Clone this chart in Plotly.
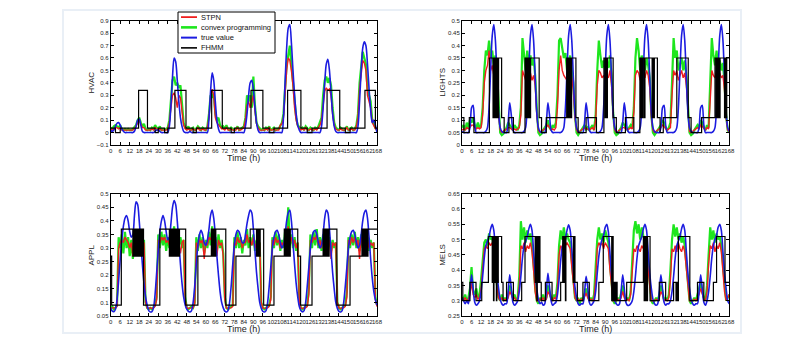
import plotly.graph_objects as go

# ore (0..168) e tacche dell'asse x
hours = list(range(169))
x_ticks = list(range(0, 169, 6))

# ---------------- HVAC ----------------
hvac_true = [
    0.02, 0.01, 0.02, 0.05, 0.075, 0.08, 0.06, 0.03, 0.01, 0.0, 0.0, 0.0, 0.0, 0.0, 0.0, 0.01, 0.05, 0.1, 0.11, 0.06, 0.01, 0.0, 0.0, 0.0,
    0.0, 0.0, 0.0, 0.0, 0.01, 0.02, 0.02, 0.01, 0.0, 0.0, 0.0, 0.0, 0.0, 0.05, 0.22, 0.45, 0.6, 0.57, 0.42, 0.25, 0.12, 0.05, 0.01, 0.0,
    0.0, 0.0, 0.01, 0.0, 0.0, 0.0, 0.0, 0.0, 0.0, 0.0, 0.0, 0.0, 0.0, 0.0, 0.12, 0.33, 0.48, 0.42, 0.25, 0.1, 0.03, 0.0, 0.0, 0.0,
    0.0, 0.0, 0.0, 0.0, 0.0, 0.0, 0.0, 0.0, 0.0, 0.0, 0.0, 0.0, 0.0, 0.05, 0.15, 0.3, 0.4, 0.42, 0.35, 0.2, 0.08, 0.02, 0.0, 0.0,
    0.0, 0.0, 0.0, 0.0, 0.0, 0.0, 0.0, 0.0, 0.0, 0.0, 0.0, 0.0, 0.0, 0.12, 0.4, 0.68, 0.84, 0.87, 0.72, 0.5, 0.3, 0.15, 0.06, 0.02,
    0.0, 0.0, 0.0, 0.0, 0.0, 0.0, 0.0, 0.0, 0.0, 0.0, 0.0, 0.0, 0.0, 0.05, 0.2, 0.4, 0.55, 0.59, 0.5, 0.32, 0.15, 0.05, 0.01, 0.0,
    0.0, 0.0, 0.0, 0.0, 0.0, 0.0, 0.0, 0.0, 0.0, 0.0, 0.0, 0.0, 0.05, 0.25, 0.5, 0.68, 0.73, 0.7, 0.55, 0.35, 0.18, 0.08, 0.1, 0.06, 0.0,
]
hvac_cvx = [
    0.04, 0.03, 0.05, 0.06, 0.05, 0.04, 0.06, 0.03, 0.02, 0.03, 0.02, 0.03, 0.02, 0.02, 0.03, 0.05, 0.06, 0.1, 0.12, 0.08, 0.05, 0.07, 0.03, 0.02,
    0.03, 0.02, 0.04, 0.03, 0.06, 0.04, 0.03, 0.05, 0.02, 0.03, 0.02, 0.03, 0.04, 0.1, 0.25, 0.42, 0.45, 0.38, 0.4, 0.36, 0.38, 0.2, 0.08, 0.04,
    0.03, 0.05, 0.02, 0.03, 0.04, 0.02, 0.03, 0.05, 0.03, 0.02, 0.04, 0.03, 0.02, 0.05, 0.15, 0.3, 0.28, 0.32, 0.15, 0.1, 0.12, 0.06, 0.04, 0.05,
    0.03, 0.06, 0.03, 0.02, 0.04, 0.03, 0.02, 0.03, 0.05, 0.02, 0.03, 0.04, 0.05, 0.12, 0.3, 0.25, 0.3, 0.2, 0.45, 0.22, 0.08, 0.05, 0.03, 0.02,
    0.03, 0.02, 0.04, 0.03, 0.05, 0.02, 0.03, 0.04, 0.02, 0.03, 0.03, 0.05, 0.08, 0.15, 0.4, 0.55, 0.62, 0.7, 0.55, 0.42, 0.25, 0.12, 0.06, 0.04,
    0.03, 0.04, 0.02, 0.05, 0.03, 0.02, 0.04, 0.03, 0.02, 0.04, 0.03, 0.05, 0.08, 0.12, 0.3, 0.42, 0.45, 0.4, 0.44, 0.38, 0.2, 0.08, 0.04, 0.03,
    0.02, 0.04, 0.03, 0.02, 0.03, 0.05, 0.02, 0.03, 0.04, 0.02, 0.03, 0.06, 0.15, 0.4, 0.55, 0.65, 0.6, 0.55, 0.35, 0.3, 0.25, 0.1, 0.06, 0.04, 0.02,
]
hvac_stpn = [
    0.03, 0.02, 0.03, 0.04, 0.04, 0.03, 0.04, 0.02, 0.02, 0.02, 0.02, 0.02, 0.02, 0.02, 0.02, 0.03, 0.05, 0.08, 0.1, 0.07, 0.04, 0.04, 0.02, 0.02,
    0.02, 0.02, 0.03, 0.02, 0.04, 0.03, 0.02, 0.03, 0.02, 0.02, 0.02, 0.02, 0.03, 0.08, 0.2, 0.3, 0.32, 0.28, 0.2, 0.3, 0.28, 0.15, 0.06, 0.03,
    0.02, 0.03, 0.02, 0.02, 0.03, 0.02, 0.02, 0.04, 0.02, 0.02, 0.03, 0.02, 0.02, 0.04, 0.12, 0.28, 0.35, 0.3, 0.12, 0.08, 0.06, 0.04, 0.03, 0.03,
    0.02, 0.04, 0.02, 0.02, 0.03, 0.02, 0.02, 0.02, 0.04, 0.02, 0.02, 0.03, 0.04, 0.1, 0.22, 0.25, 0.2, 0.25, 0.3, 0.18, 0.07, 0.04, 0.02, 0.02,
    0.02, 0.02, 0.03, 0.02, 0.04, 0.02, 0.02, 0.03, 0.02, 0.02, 0.02, 0.06, 0.07, 0.12, 0.35, 0.5, 0.6, 0.58, 0.5, 0.38, 0.2, 0.1, 0.05, 0.03,
    0.02, 0.03, 0.02, 0.04, 0.02, 0.02, 0.03, 0.02, 0.02, 0.03, 0.02, 0.04, 0.06, 0.1, 0.25, 0.33, 0.36, 0.34, 0.35, 0.3, 0.15, 0.06, 0.03, 0.02,
    0.02, 0.03, 0.02, 0.02, 0.02, 0.04, 0.02, 0.02, 0.03, 0.02, 0.02, 0.05, 0.12, 0.35, 0.5, 0.58, 0.56, 0.5, 0.3, 0.25, 0.2, 0.08, 0.05, 0.03, 0.02,
]
hvac_fhmm_t = [0, 3, 6, 17.6, 23.2, 28, 30, 34, 36, 40.5, 47.5, 52, 54, 63.7, 70.4, 76, 78, 88.5, 96, 100, 103,
               111.6, 120, 124, 127, 136.5, 144.5, 148, 151, 160.4, 167, 168]
hvac_fhmm_v = [0.035, 0.0, 0.035, 0.34, 0.035, 0.0, 0.035, 0.0, 0.035, 0.34, 0.035, 0.0, 0.035, 0.34, 0.035, 0.0, 0.035, 0.34, 0.035, 0.0, 0.035,
               0.34, 0.035, 0.0, 0.035, 0.34, 0.035, 0.0, 0.035, 0.34, 0.035, 0.035]

# ---------------- LIGHTS ----------------
lights_true = [
    0.055, 0.05, 0.05, 0.05, 0.05, 0.07, 0.15, 0.16, 0.08, 0.05, 0.05, 0.05, 0.05, 0.05, 0.05, 0.055, 0.07, 0.15, 0.3, 0.44, 0.485, 0.42, 0.27, 0.13,
    0.07, 0.055, 0.05, 0.05, 0.05, 0.09, 0.17, 0.12, 0.06, 0.05, 0.05, 0.05, 0.05, 0.05, 0.05, 0.055, 0.07, 0.15, 0.3, 0.44, 0.485, 0.42, 0.27, 0.13,
    0.07, 0.055, 0.05, 0.05, 0.05, 0.09, 0.17, 0.12, 0.06, 0.05, 0.05, 0.05, 0.05, 0.05, 0.05, 0.055, 0.07, 0.15, 0.3, 0.44, 0.485, 0.42, 0.27, 0.13,
    0.07, 0.055, 0.05, 0.05, 0.05, 0.09, 0.17, 0.12, 0.06, 0.05, 0.05, 0.05, 0.05, 0.05, 0.05, 0.055, 0.07, 0.15, 0.3, 0.44, 0.485, 0.42, 0.27, 0.13,
    0.07, 0.055, 0.05, 0.05, 0.05, 0.09, 0.17, 0.12, 0.06, 0.05, 0.05, 0.05, 0.05, 0.05, 0.05, 0.055, 0.07, 0.15, 0.3, 0.44, 0.485, 0.42, 0.27, 0.13,
    0.07, 0.055, 0.05, 0.05, 0.05, 0.07, 0.15, 0.16, 0.08, 0.05, 0.05, 0.05, 0.05, 0.05, 0.055, 0.07, 0.15, 0.3, 0.44, 0.485, 0.42, 0.27, 0.13, 0.07,
    0.055, 0.05, 0.05, 0.05, 0.05, 0.07, 0.15, 0.16, 0.08, 0.05, 0.05, 0.05, 0.05, 0.05, 0.055, 0.07, 0.15, 0.3, 0.44, 0.485, 0.42, 0.27, 0.13, 0.07, 0.055,
]
lights_cvx = [
    0.07, 0.08, 0.06, 0.09, 0.07, 0.1, 0.09, 0.11, 0.08, 0.07, 0.09, 0.07, 0.08, 0.15, 0.3, 0.38, 0.36, 0.42, 0.35, 0.38, 0.32, 0.36, 0.3, 0.15,
    0.05, 0.04, 0.045, 0.06, 0.07, 0.09, 0.08, 0.07, 0.06, 0.08, 0.07, 0.06, 0.08, 0.15, 0.43, 0.36, 0.3, 0.38, 0.33, 0.36, 0.32, 0.35, 0.28, 0.15,
    0.05, 0.04, 0.045, 0.06, 0.07, 0.08, 0.1, 0.07, 0.06, 0.08, 0.07, 0.09, 0.2, 0.42, 0.43, 0.38, 0.35, 0.37, 0.3, 0.33, 0.36, 0.3, 0.25, 0.12,
    0.05, 0.04, 0.05, 0.06, 0.07, 0.08, 0.06, 0.07, 0.06, 0.07, 0.08, 0.06, 0.12, 0.3, 0.42, 0.36, 0.31, 0.34, 0.3, 0.33, 0.31, 0.36, 0.28, 0.13,
    0.05, 0.04, 0.045, 0.06, 0.07, 0.09, 0.08, 0.07, 0.06, 0.07, 0.08, 0.07, 0.15, 0.35, 0.43, 0.38, 0.3, 0.36, 0.33, 0.3, 0.35, 0.32, 0.27, 0.12,
    0.05, 0.04, 0.05, 0.06, 0.07, 0.08, 0.1, 0.09, 0.07, 0.06, 0.07, 0.09, 0.25, 0.43, 0.35, 0.38, 0.3, 0.33, 0.35, 0.3, 0.34, 0.28, 0.15, 0.05,
    0.04, 0.045, 0.06, 0.07, 0.08, 0.07, 0.1, 0.09, 0.07, 0.06, 0.08, 0.07, 0.22, 0.43, 0.36, 0.32, 0.38, 0.3, 0.34, 0.3, 0.33, 0.25, 0.12, 0.06, 0.05,
]
lights_stpn = [
    0.06, 0.065, 0.06, 0.07, 0.065, 0.07, 0.08, 0.08, 0.07, 0.065, 0.07, 0.065, 0.07, 0.12, 0.25, 0.3, 0.32, 0.38, 0.3, 0.32, 0.28, 0.3, 0.25, 0.12,
    0.06, 0.05, 0.055, 0.06, 0.065, 0.07, 0.07, 0.065, 0.06, 0.065, 0.06, 0.065, 0.07, 0.12, 0.3, 0.28, 0.26, 0.3, 0.27, 0.29, 0.26, 0.28, 0.24, 0.12,
    0.06, 0.05, 0.055, 0.06, 0.065, 0.07, 0.08, 0.07, 0.06, 0.065, 0.06, 0.07, 0.15, 0.3, 0.36, 0.3, 0.28, 0.27, 0.26, 0.28, 0.3, 0.27, 0.22, 0.11,
    0.06, 0.05, 0.055, 0.06, 0.065, 0.07, 0.065, 0.065, 0.06, 0.065, 0.07, 0.06, 0.1, 0.24, 0.3, 0.29, 0.27, 0.28, 0.26, 0.28, 0.27, 0.3, 0.24, 0.12,
    0.06, 0.05, 0.055, 0.06, 0.065, 0.07, 0.07, 0.065, 0.06, 0.065, 0.07, 0.065, 0.13, 0.28, 0.3, 0.29, 0.26, 0.28, 0.29, 0.27, 0.3, 0.28, 0.23, 0.11,
    0.06, 0.05, 0.055, 0.06, 0.065, 0.07, 0.08, 0.075, 0.065, 0.06, 0.065, 0.07, 0.2, 0.3, 0.28, 0.3, 0.26, 0.28, 0.3, 0.27, 0.29, 0.24, 0.13, 0.055,
    0.05, 0.055, 0.06, 0.065, 0.07, 0.065, 0.08, 0.075, 0.065, 0.06, 0.07, 0.065, 0.18, 0.3, 0.28, 0.27, 0.3, 0.27, 0.29, 0.27, 0.28, 0.22, 0.11, 0.06, 0.055,
]
lights_fhmm_t = [0, 1.2, 4.6, 7.5, 17.2, 19.5, 19.8, 20.2, 20.5, 21, 21.3, 21.8, 22.2, 22.6, 23, 24.9, 26.5, 29.5, 32.3,
                 39.6, 40.2, 40.5, 41, 41.3, 41.8, 42.2, 42.7, 43.1, 48.5, 50, 53,
                 65.8, 66.5, 66.8, 67.4, 67.8, 68.5, 68.9, 71.6, 73, 78, 84.5,
                 89.2, 90, 90.3, 91, 91.4, 95, 97, 102.7, 108,
                 111.8, 112.5, 112.8, 113.5, 113.8, 114.6, 115, 119.5, 119.9, 120.5, 120.9, 122.8, 124.5, 126.5,
                 135, 142.2, 144, 150.6,
                 159, 159.8, 160.1, 160.8, 161.1, 161.8, 162.2, 165, 165.4, 166, 166.4, 168]
lights_fhmm_v = [0.11, 0.05, 0.11, 0.05, 0.35, 0.11, 0.35, 0.11, 0.35, 0.11, 0.35, 0.11, 0.35, 0.11, 0.35, 0.11, 0.05, 0.11, 0.05,
                 0.35, 0.11, 0.35, 0.11, 0.35, 0.11, 0.35, 0.11, 0.35, 0.11, 0.05, 0.11,
                 0.35, 0.11, 0.35, 0.11, 0.35, 0.11, 0.35, 0.11, 0.05, 0.11, 0.05,
                 0.35, 0.11, 0.35, 0.11, 0.35, 0.11, 0.05, 0.11, 0.05,
                 0.35, 0.11, 0.35, 0.11, 0.35, 0.11, 0.35, 0.11, 0.35, 0.11, 0.35, 0.11, 0.05, 0.11,
                 0.35, 0.11, 0.05, 0.11,
                 0.35, 0.11, 0.35, 0.11, 0.35, 0.11, 0.35, 0.11, 0.35, 0.11, 0.35, 0.35]

# ---------------- APPL ----------------
appl_true = [
    0.08, 0.068, 0.066, 0.075, 0.11, 0.18, 0.26, 0.33, 0.38, 0.41, 0.42, 0.4, 0.36, 0.34, 0.35, 0.42, 0.47, 0.46, 0.4, 0.32, 0.24, 0.17, 0.12, 0.09,
    0.07, 0.065, 0.066, 0.08, 0.13, 0.21, 0.29, 0.36, 0.4, 0.42, 0.4, 0.36, 0.33, 0.34, 0.39, 0.45, 0.475, 0.46, 0.4, 0.32, 0.24, 0.17, 0.12, 0.09,
    0.075, 0.067, 0.065, 0.07, 0.1, 0.16, 0.24, 0.31, 0.35, 0.365, 0.35, 0.32, 0.31, 0.33, 0.37, 0.42, 0.44, 0.41, 0.35, 0.27, 0.2, 0.14, 0.1, 0.08,
    0.068, 0.065, 0.07, 0.1, 0.16, 0.24, 0.31, 0.35, 0.365, 0.36, 0.34, 0.32, 0.32, 0.35, 0.39, 0.42, 0.44, 0.43, 0.37, 0.29, 0.21, 0.15, 0.1, 0.078,
    0.067, 0.065, 0.07, 0.1, 0.16, 0.23, 0.3, 0.34, 0.36, 0.365, 0.35, 0.32, 0.3, 0.31, 0.35, 0.4, 0.43, 0.44, 0.4, 0.32, 0.24, 0.17, 0.12, 0.085,
    0.07, 0.065, 0.07, 0.1, 0.16, 0.23, 0.3, 0.34, 0.36, 0.365, 0.35, 0.32, 0.3, 0.31, 0.35, 0.41, 0.44, 0.43, 0.37, 0.29, 0.21, 0.15, 0.1, 0.078,
    0.067, 0.065, 0.07, 0.1, 0.16, 0.23, 0.3, 0.34, 0.36, 0.365, 0.35, 0.32, 0.3, 0.31, 0.35, 0.4, 0.43, 0.44, 0.41, 0.34, 0.26, 0.19, 0.14, 0.11, 0.09,
]
appl_cvx = [
    0.08, 0.085, 0.075, 0.08, 0.09, 0.34, 0.3, 0.35, 0.28, 0.36, 0.3, 0.34, 0.27, 0.33, 0.26, 0.32, 0.29, 0.35, 0.3, 0.34, 0.29, 0.33, 0.1, 0.08,
    0.075, 0.08, 0.075, 0.085, 0.09, 0.12, 0.35, 0.3, 0.36, 0.31, 0.35, 0.29, 0.34, 0.3, 0.36, 0.32, 0.38, 0.3, 0.35, 0.31, 0.34, 0.3, 0.33, 0.12,
    0.08, 0.075, 0.08, 0.085, 0.08, 0.1, 0.34, 0.29, 0.35, 0.3, 0.34, 0.28, 0.33, 0.3, 0.36, 0.31, 0.38, 0.3, 0.34, 0.29, 0.35, 0.3, 0.33, 0.28,
    0.12, 0.08, 0.075, 0.08, 0.085, 0.09, 0.34, 0.3, 0.36, 0.3, 0.34, 0.28, 0.33, 0.31, 0.37, 0.3, 0.34, 0.31, 0.35, 0.29, 0.33, 0.3, 0.32, 0.1,
    0.08, 0.075, 0.08, 0.085, 0.09, 0.12, 0.34, 0.3, 0.36, 0.31, 0.35, 0.29, 0.33, 0.3, 0.36, 0.32, 0.45, 0.31, 0.35, 0.3, 0.34, 0.29, 0.32, 0.1,
    0.08, 0.075, 0.08, 0.085, 0.09, 0.15, 0.35, 0.3, 0.36, 0.31, 0.37, 0.3, 0.34, 0.29, 0.35, 0.31, 0.36, 0.3, 0.34, 0.29, 0.33, 0.3, 0.32, 0.1,
    0.08, 0.075, 0.08, 0.085, 0.09, 0.14, 0.34, 0.3, 0.35, 0.31, 0.36, 0.3, 0.34, 0.29, 0.35, 0.3, 0.36, 0.31, 0.34, 0.29, 0.33, 0.3, 0.32, 0.12, 0.09,
]
appl_stpn = [
    0.08, 0.08, 0.078, 0.08, 0.085, 0.3, 0.32, 0.33, 0.32, 0.34, 0.33, 0.32, 0.3, 0.32, 0.27, 0.31, 0.33, 0.34, 0.32, 0.33, 0.31, 0.32, 0.1, 0.08,
    0.078, 0.08, 0.078, 0.08, 0.085, 0.11, 0.33, 0.32, 0.34, 0.33, 0.34, 0.32, 0.33, 0.31, 0.34, 0.33, 0.35, 0.32, 0.33, 0.32, 0.28, 0.32, 0.33, 0.11,
    0.08, 0.078, 0.08, 0.08, 0.08, 0.095, 0.32, 0.3, 0.33, 0.32, 0.33, 0.26, 0.32, 0.31, 0.34, 0.33, 0.35, 0.32, 0.33, 0.27, 0.33, 0.31, 0.32, 0.27,
    0.11, 0.08, 0.078, 0.08, 0.08, 0.085, 0.32, 0.31, 0.34, 0.32, 0.33, 0.3, 0.32, 0.32, 0.35, 0.32, 0.33, 0.31, 0.34, 0.3, 0.32, 0.31, 0.32, 0.1,
    0.08, 0.078, 0.08, 0.08, 0.085, 0.11, 0.33, 0.31, 0.34, 0.32, 0.33, 0.3, 0.32, 0.31, 0.34, 0.33, 0.38, 0.32, 0.34, 0.31, 0.33, 0.3, 0.32, 0.1,
    0.08, 0.078, 0.08, 0.08, 0.085, 0.13, 0.33, 0.32, 0.34, 0.33, 0.35, 0.31, 0.33, 0.3, 0.34, 0.32, 0.34, 0.31, 0.33, 0.26, 0.32, 0.31, 0.32, 0.1,
    0.08, 0.078, 0.08, 0.08, 0.085, 0.12, 0.33, 0.31, 0.34, 0.32, 0.34, 0.31, 0.33, 0.26, 0.34, 0.31, 0.34, 0.32, 0.33, 0.3, 0.32, 0.31, 0.32, 0.11, 0.085,
]
appl_fhmm_t = [0, 0.6, 6.7, 14, 14.4, 15, 15.3, 16, 16.4, 17, 17.4, 18, 18.3, 19, 19.4, 20, 20.3, 20.7,
               31, 37, 37.4, 38, 38.3, 39, 39.4, 40, 40.3, 41, 41.4, 42, 42.4, 43, 43.4, 47.3,
               55, 63.5, 64, 64.3, 65, 65.3, 66, 66.3, 72.6,
               79, 88, 92, 92.3, 93, 93.3, 94, 94.3, 96.5,
               103, 109.5, 110, 110.3, 111, 111.3, 112, 112.3, 113, 113.3, 118, 119.8,
               127, 134, 134.5, 134.8, 135.5, 135.8, 136.5, 136.8, 137.5, 137.8, 142.7,
               151, 158.5, 159, 159.3, 160, 160.3, 161, 161.3, 162, 162.3, 168]
appl_fhmm_v = [0.27, 0.09, 0.37, 0.27, 0.37, 0.27, 0.37, 0.27, 0.37, 0.27, 0.37, 0.27, 0.37, 0.27, 0.37, 0.27, 0.37, 0.09,
               0.37, 0.27, 0.37, 0.27, 0.37, 0.27, 0.37, 0.27, 0.37, 0.27, 0.37, 0.27, 0.37, 0.27, 0.37, 0.09,
               0.27, 0.37, 0.27, 0.37, 0.27, 0.37, 0.27, 0.37, 0.09,
               0.27, 0.37, 0.27, 0.37, 0.27, 0.37, 0.27, 0.37, 0.09,
               0.27, 0.37, 0.27, 0.37, 0.27, 0.37, 0.27, 0.37, 0.27, 0.37, 0.27, 0.09,
               0.27, 0.37, 0.27, 0.37, 0.27, 0.37, 0.27, 0.37, 0.27, 0.37, 0.09,
               0.27, 0.37, 0.27, 0.37, 0.27, 0.37, 0.27, 0.37, 0.27, 0.37, 0.37]

# ---------------- MELS ----------------
mels_true = [
    0.31, 0.3, 0.29, 0.3, 0.29, 0.33, 0.385, 0.34, 0.295, 0.285, 0.29, 0.3, 0.33, 0.38, 0.44, 0.48, 0.495, 0.51, 0.535, 0.55, 0.53, 0.46, 0.39, 0.34,
    0.305, 0.29, 0.285, 0.29, 0.29, 0.33, 0.385, 0.34, 0.295, 0.285, 0.29, 0.3, 0.33, 0.38, 0.44, 0.48, 0.495, 0.51, 0.535, 0.55, 0.53, 0.46, 0.39, 0.34,
    0.305, 0.29, 0.295, 0.285, 0.29, 0.33, 0.39, 0.345, 0.3, 0.285, 0.29, 0.295, 0.32, 0.37, 0.43, 0.475, 0.49, 0.505, 0.53, 0.548, 0.53, 0.47, 0.4, 0.345,
    0.31, 0.29, 0.285, 0.29, 0.29, 0.325, 0.38, 0.345, 0.295, 0.285, 0.29, 0.3, 0.33, 0.39, 0.445, 0.48, 0.5, 0.515, 0.54, 0.55, 0.525, 0.455, 0.385, 0.335,
    0.3, 0.29, 0.285, 0.29, 0.33, 0.385, 0.34, 0.295, 0.285, 0.285, 0.29, 0.3, 0.33, 0.38, 0.44, 0.48, 0.495, 0.51, 0.535, 0.55, 0.53, 0.46, 0.39, 0.34,
    0.305, 0.29, 0.285, 0.29, 0.33, 0.385, 0.34, 0.295, 0.285, 0.29, 0.29, 0.3, 0.33, 0.38, 0.44, 0.48, 0.495, 0.51, 0.535, 0.55, 0.53, 0.46, 0.39, 0.34,
    0.305, 0.29, 0.285, 0.29, 0.29, 0.33, 0.385, 0.34, 0.295, 0.285, 0.3, 0.33, 0.38, 0.44, 0.48, 0.5, 0.515, 0.54, 0.55, 0.53, 0.46, 0.39, 0.34, 0.3, 0.29,
]
mels_cvx = [
    0.31, 0.305, 0.32, 0.3, 0.31, 0.34, 0.41, 0.33, 0.32, 0.34, 0.31, 0.32, 0.37, 0.44, 0.49, 0.5, 0.48, 0.52, 0.5, 0.51, 0.47, 0.42, 0.35, 0.31,
    0.3, 0.32, 0.3, 0.31, 0.3, 0.32, 0.35, 0.33, 0.31, 0.32, 0.3, 0.31, 0.38, 0.56, 0.5, 0.54, 0.49, 0.53, 0.5, 0.52, 0.48, 0.42, 0.34, 0.3,
    0.29, 0.31, 0.3, 0.32, 0.3, 0.31, 0.35, 0.33, 0.31, 0.3, 0.32, 0.31, 0.36, 0.48, 0.53, 0.5, 0.54, 0.5, 0.52, 0.5, 0.49, 0.43, 0.36, 0.31,
    0.3, 0.31, 0.29, 0.31, 0.3, 0.32, 0.34, 0.32, 0.3, 0.31, 0.3, 0.32, 0.4, 0.5, 0.54, 0.5, 0.52, 0.49, 0.53, 0.51, 0.49, 0.42, 0.35, 0.3,
    0.29, 0.3, 0.31, 0.3, 0.33, 0.35, 0.32, 0.3, 0.31, 0.3, 0.33, 0.42, 0.53, 0.56, 0.52, 0.55, 0.5, 0.54, 0.51, 0.5, 0.48, 0.42, 0.35, 0.3,
    0.29, 0.3, 0.31, 0.3, 0.32, 0.35, 0.33, 0.3, 0.31, 0.3, 0.32, 0.4, 0.5, 0.55, 0.51, 0.54, 0.5, 0.52, 0.49, 0.51, 0.48, 0.42, 0.35, 0.3,
    0.29, 0.3, 0.31, 0.3, 0.32, 0.34, 0.36, 0.33, 0.31, 0.3, 0.35, 0.45, 0.54, 0.5, 0.53, 0.49, 0.52, 0.5, 0.51, 0.48, 0.41, 0.34, 0.3, 0.31, 0.32,
]
mels_stpn = [
    0.31, 0.3, 0.31, 0.3, 0.305, 0.32, 0.36, 0.32, 0.31, 0.32, 0.305, 0.31, 0.34, 0.42, 0.47, 0.48, 0.47, 0.49, 0.48, 0.49, 0.46, 0.4, 0.34, 0.31,
    0.3, 0.31, 0.3, 0.305, 0.3, 0.31, 0.33, 0.32, 0.305, 0.31, 0.3, 0.305, 0.35, 0.48, 0.47, 0.49, 0.46, 0.48, 0.47, 0.49, 0.46, 0.4, 0.33, 0.3,
    0.3, 0.305, 0.3, 0.31, 0.3, 0.305, 0.33, 0.32, 0.305, 0.3, 0.31, 0.305, 0.34, 0.45, 0.48, 0.47, 0.49, 0.48, 0.49, 0.48, 0.47, 0.41, 0.35, 0.31,
    0.3, 0.305, 0.3, 0.305, 0.3, 0.31, 0.325, 0.31, 0.3, 0.305, 0.3, 0.31, 0.37, 0.47, 0.49, 0.48, 0.49, 0.47, 0.49, 0.48, 0.47, 0.4, 0.34, 0.3,
    0.3, 0.3, 0.305, 0.3, 0.31, 0.33, 0.31, 0.3, 0.305, 0.3, 0.32, 0.4, 0.47, 0.46, 0.48, 0.47, 0.46, 0.48, 0.47, 0.48, 0.46, 0.4, 0.34, 0.3,
    0.3, 0.3, 0.305, 0.3, 0.31, 0.33, 0.32, 0.3, 0.305, 0.3, 0.31, 0.37, 0.47, 0.46, 0.48, 0.46, 0.49, 0.47, 0.46, 0.48, 0.46, 0.4, 0.34, 0.3,
    0.3, 0.3, 0.305, 0.3, 0.31, 0.32, 0.34, 0.32, 0.305, 0.3, 0.33, 0.42, 0.48, 0.47, 0.49, 0.46, 0.48, 0.47, 0.49, 0.46, 0.4, 0.33, 0.3, 0.31, 0.32,
]
mels_fhmm_t = [0, 0.5, 5, 8.8, 12.4, 16.6, 19, 19.3, 19.8, 20.1, 20.7, 21, 21.6, 21.9, 22.5, 22.8, 24.9, 25.8,
               28, 32.3, 37.5, 39.6, 46, 46.3, 47, 47.3, 48, 48.3, 49, 49.8,
               52.4, 56.6, 62, 63.3, 64, 64.3, 65, 65.3, 70, 70.3, 71, 72.5,
               76, 80, 86, 88.8, 94.1, 94.4, 95, 95.3, 95.8, 96.1, 96.6, 97, 97.5,
               103.5, 114, 114.5, 114.8, 115.4, 115.7, 116.3, 116.6, 118.2,
               124, 128, 133, 134.5, 135, 135.5, 136, 143.2,
               148, 152, 158, 160, 165.3, 168]
mels_fhmm_v = [0.36, 0.3, 0.36, 0.3, 0.36, 0.51, 0.36, 0.51, 0.3, 0.51, 0.36, 0.51, 0.3, 0.51, 0.36, 0.51, 0.36, 0.3,
               0.36, 0.3, 0.36, 0.51, 0.36, 0.51, 0.3, 0.51, 0.36, 0.51, 0.36, 0.3,
               0.36, 0.3, 0.36, 0.51, 0.36, 0.51, 0.3, 0.51, 0.36, 0.51, 0.36, 0.3,
               0.36, 0.3, 0.36, 0.51, 0.3, 0.51, 0.3, 0.36, 0.3, 0.36, 0.3, 0.36, 0.3,
               0.36, 0.51, 0.3, 0.51, 0.3, 0.51, 0.3, 0.51, 0.3,
               0.36, 0.3, 0.36, 0.3, 0.36, 0.3, 0.51, 0.3,
               0.36, 0.3, 0.36, 0.51, 0.36, 0.36]

series_names = ["STPN", "convex programming", "true value", "FHMM"]
series_colors = ["#f01e1e", "#1ee61e", "#1c1ce0", "black"]
series_widths = [1.4, 2.2, 1.6, 1.2]

# la pagina ha un margine di 8px attorno al grafico: si lavora in pixel della finestra
OFF = 8
W, H = 789 - OFF, 338 - OFF


def px(x):
    return (x - OFF) / W


def py(y):
    return 1 - (y - OFF) / H


panels = [
    dict(name="HVAC", stpn=hvac_stpn, cvx=hvac_cvx, true=hvac_true, ft=hvac_fhmm_t, fv=hvac_fhmm_v,
         yr=[-0.1, 0.9], dt=0.1, box=(110.7, 377.0, 20.7, 145.0)),
    dict(name="LIGHTS", stpn=lights_stpn, cvx=lights_cvx, true=lights_true, ft=lights_fhmm_t, fv=lights_fhmm_v,
         yr=[0, 0.5], dt=0.05, box=(462.0, 729.3, 20.7, 145.0)),
    dict(name="APPL", stpn=appl_stpn, cvx=appl_cvx, true=appl_true, ft=appl_fhmm_t, fv=appl_fhmm_v,
         yr=[0.05, 0.5], dt=0.05, box=(110.7, 377.0, 193.7, 316.0)),
    dict(name="MELS", stpn=mels_stpn, cvx=mels_cvx, true=mels_true, ft=mels_fhmm_t, fv=mels_fhmm_v,
         yr=[0.25, 0.65], dt=0.05, box=(462.0, 729.3, 193.7, 316.0)),
]

fig = go.Figure()
font_fam = "Liberation Sans, Arial, sans-serif"
annotations = []
shapes = [dict(type="rect", xref="paper", yref="paper", x0=px(63), x1=px(741), y0=py(333), y1=py(10),
               line=dict(color="#e9eff6", width=2), layer="below")]

for i, p in enumerate(panels):
    n = "" if i == 0 else str(i + 1)
    xa, ya = "x" + n, "y" + n
    # verde sotto, poi rosso, blu e nero sopra
    fig.add_trace(go.Scatter(x=hours, y=p["cvx"], xaxis=xa, yaxis=ya, mode="lines",
                             line=dict(color=series_colors[1], width=series_widths[1]), showlegend=False))
    fig.add_trace(go.Scatter(x=hours, y=p["stpn"], xaxis=xa, yaxis=ya, mode="lines",
                             line=dict(color=series_colors[0], width=series_widths[0]), showlegend=False))
    fig.add_trace(go.Scatter(x=hours, y=p["true"], xaxis=xa, yaxis=ya, mode="lines",
                             line=dict(color=series_colors[2], width=series_widths[2], shape="spline", smoothing=0.8),
                             showlegend=False))
    fig.add_trace(go.Scatter(x=p["ft"], y=p["fv"], xaxis=xa, yaxis=ya, mode="lines",
                             line=dict(color=series_colors[3], width=series_widths[3], shape="hv"), showlegend=False))

    x0, x1, y0, y1 = p["box"]
    axis_common = dict(showline=True, linecolor="black", linewidth=1, mirror="ticks",
                       ticks="inside", ticklen=3, tickwidth=0.8, tickcolor="black",
                       showgrid=False, zeroline=False, automargin=False,
                       tickfont=dict(size=6, color="#222", family=font_fam))
    fig.layout["xaxis" + n] = dict(domain=[px(x0), px(x1)], anchor=ya, range=[0, 168],
                                   tickvals=x_ticks, ticktext=[str(v) for v in x_ticks], tickangle=0,
                                   **axis_common)
    fig.layout["yaxis" + n] = dict(domain=[py(y1), py(y0)], anchor=xa, range=p["yr"], dtick=p["dt"], tick0=0,
                                   **axis_common)
    # titoli degli assi
    annotations.append(dict(text="Time (h)", xref="paper", yref="paper", x=px((x0 + x1) / 2), y=py(y1 + 13),
                            showarrow=False, xanchor="center", yanchor="middle",
                            font=dict(size=9, color="#222", family=font_fam)))
    annotations.append(dict(text=p["name"], xref="paper", yref="paper", x=px(x0 - 19), y=py((y0 + y1) / 2),
                            showarrow=False, xanchor="center", yanchor="middle", textangle=-90,
                            font=dict(size=8, color="#222", family=font_fam)))

# legenda disegnata a mano (box compatto come nell'originale)
lx0, lx1, ly0, ly1 = 178, 275, 12, 53
shapes.append(dict(type="rect", xref="paper", yref="paper", x0=px(lx0), x1=px(lx1), y0=py(ly1), y1=py(ly0),
                   line=dict(color="black", width=1), fillcolor="white", layer="above"))
row_h = (ly1 - ly0) / 4
for k, (nm, col, wd) in enumerate(zip(series_names, series_colors, series_widths)):
    yc = ly0 + row_h * (k + 0.5)
    shapes.append(dict(type="line", xref="paper", yref="paper", x0=px(lx0 + 3), x1=px(lx0 + 19),
                       y0=py(yc), y1=py(yc), line=dict(color=col, width=wd + 0.4), layer="above"))
    annotations.append(dict(text=nm, xref="paper", yref="paper", x=px(lx0 + 21), y=py(yc),
                            showarrow=False, xanchor="left", yanchor="middle",
                            font=dict(size=7.5, color="#111", family=font_fam)))

fig.update_layout(
    width=W, height=H,
    margin=dict(l=0, r=0, t=0, b=0),
    paper_bgcolor="white", plot_bgcolor="white",
    showlegend=False,
    shapes=shapes,
    annotations=annotations,
)

fig.write_html("out.html")
